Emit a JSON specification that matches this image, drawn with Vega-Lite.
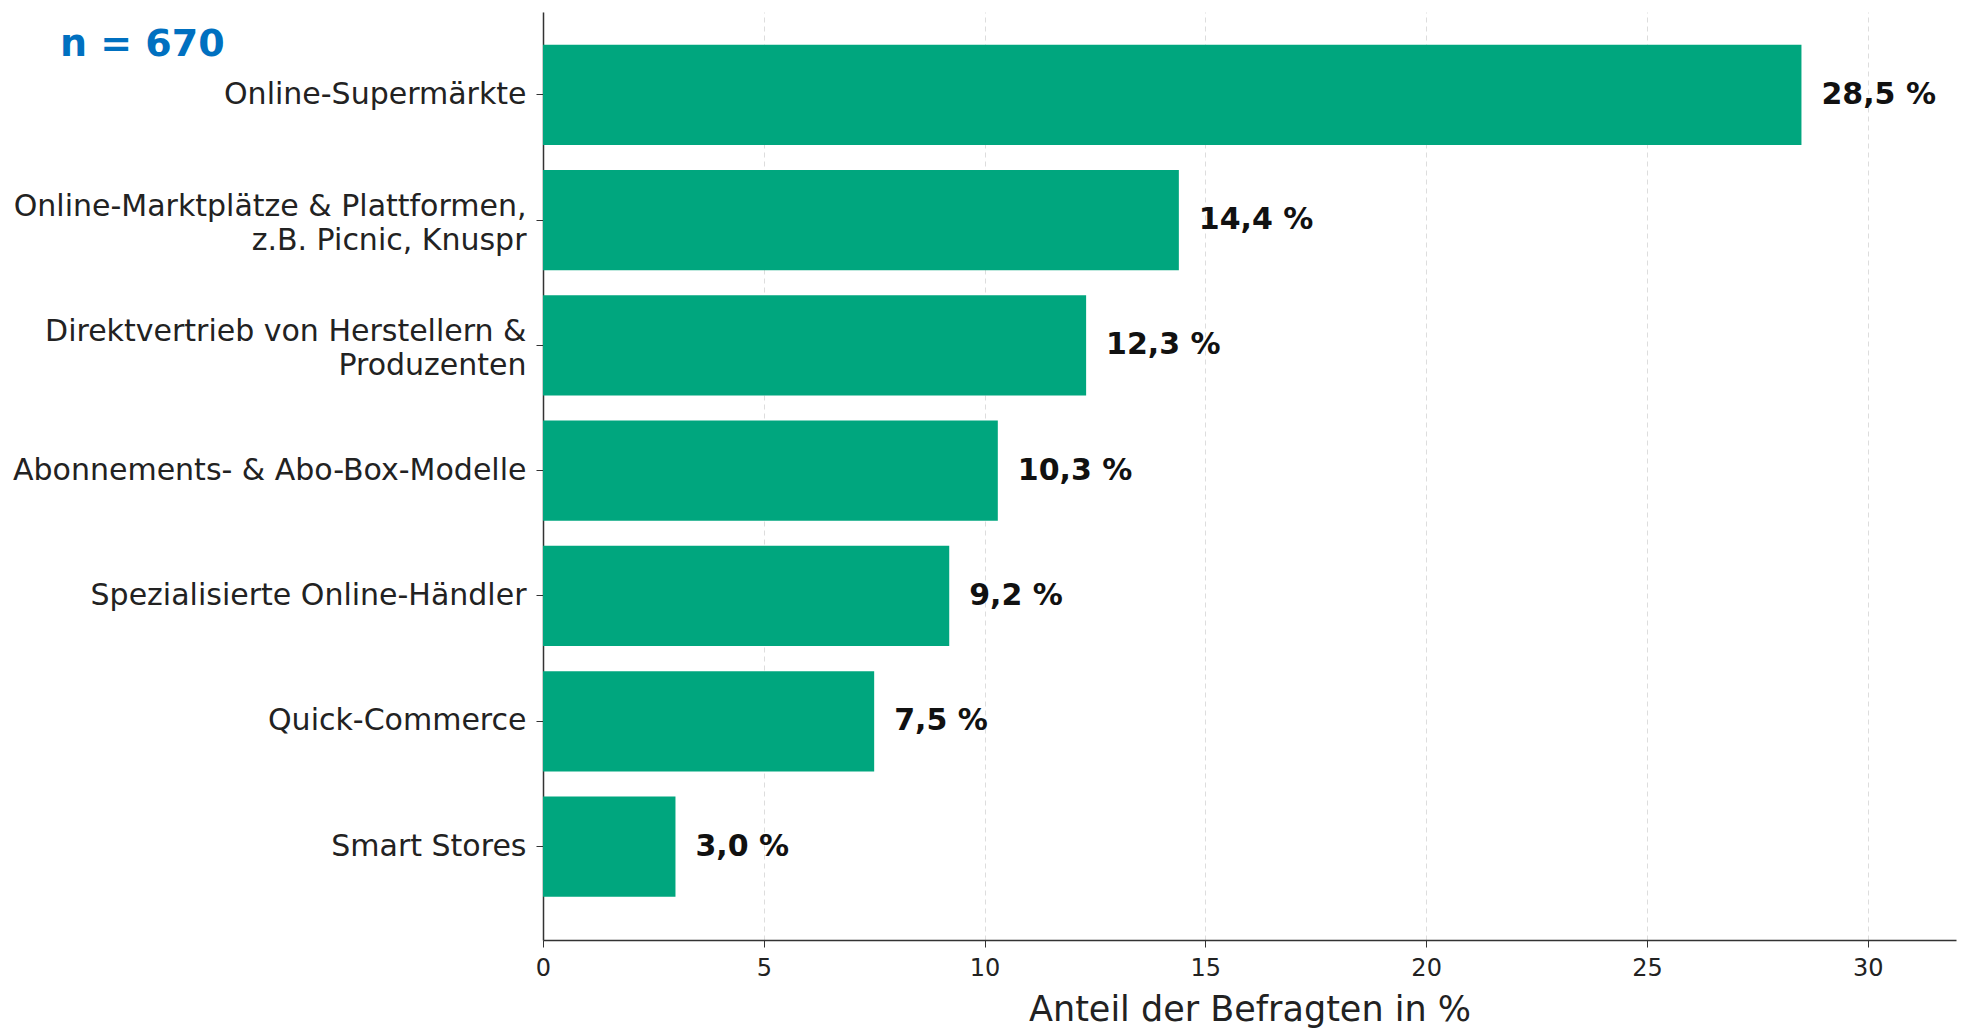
{
  "$schema": "https://vega.github.io/schema/vega-lite/v6.json",
  "autosize": "none",
  "width": 1413,
  "height": 928,
  "padding": {"left": 543, "top": 12, "right": 5, "bottom": 88},
  "background": "white",
  "title": {
    "text": "n = 670",
    "anchor": "start",
    "frame": "group",
    "dx": -483,
    "offset": -90,
    "baseline": "bottom",
    "font": "DejaVu Sans",
    "fontSize": 38,
    "fontWeight": "bold",
    "color": "#0070C0"
  },
  "data": {
    "values": [
      {"kanal": "Online-Supermärkte", "anteil": 28.5, "label": "28,5 %"},
      {"kanal": "Online-Marktplätze & Plattformen,|z.B. Picnic, Knuspr", "anteil": 14.4, "label": "14,4 %"},
      {"kanal": "Direktvertrieb von Herstellern &|Produzenten", "anteil": 12.3, "label": "12,3 %"},
      {"kanal": "Abonnements- & Abo-Box-Modelle", "anteil": 10.3, "label": "10,3 %"},
      {"kanal": "Spezialisierte Online-Händler", "anteil": 9.2, "label": "9,2 %"},
      {"kanal": "Quick-Commerce", "anteil": 7.5, "label": "7,5 %"},
      {"kanal": "Smart Stores", "anteil": 3.0, "label": "3,0 %"}
    ]
  },
  "encoding": {
    "y": {
      "field": "kanal",
      "type": "nominal",
      "sort": null,
      "scale": {"paddingInner": 0.2, "paddingOuter": 0.303, "align": 0.43},
      "axis": {
        "title": null,
        "labelExpr": "split(datum.label, '|')",
        "labelOffset": {"expr": "indexof(datum.value, '|') >= 0 ? -13 : 0"},
        "labelFont": "DejaVu Sans",
        "labelFontSize": 30,
        "labelLimit": 0,
        "labelColor": "#222222",
        "labelLineHeight": 34,
        "labelPadding": 10,
        "tickSize": 7,
        "tickColor": "#333333",
        "domainColor": "#333333",
        "domainWidth": 1.5,
        "grid": false
      }
    }
  },
  "layer": [
    {
      "mark": {"type": "bar", "color": "#00A67E"},
      "encoding": {
        "x": {
          "field": "anteil",
          "type": "quantitative",
          "scale": {"domain": [0, 32], "nice": false},
          "axis": {
            "title": "Anteil der Befragten in %",
            "values": [0, 5, 10, 15, 20, 25, 30],
            "titleFont": "DejaVu Sans",
            "titleFontSize": 35,
            "titleFontWeight": "normal",
            "titleColor": "#222222",
            "titlePadding": 12,
            "labelFont": "DejaVu Sans",
            "labelFontSize": 24,
            "labelFlush": false,
            "labelColor": "#222222",
            "labelPadding": 9,
            "tickSize": 7,
            "tickColor": "#333333",
            "domainColor": "#333333",
            "domainWidth": 1.5,
            "grid": true,
            "gridColor": "#dddddd",
            "gridDash": [5, 4],
            "gridWidth": 1
          }
        }
      }
    },
    {
      "mark": {
        "type": "text",
        "align": "left",
        "baseline": "middle",
        "dx": 20,
        "font": "DejaVu Sans",
        "fontSize": 30,
        "fontWeight": "bold",
        "color": "#111111"
      },
      "encoding": {
        "x": {"field": "anteil", "type": "quantitative"},
        "text": {"field": "label"}
      }
    }
  ],
  "config": {
    "view": {"stroke": null}
  }
}
